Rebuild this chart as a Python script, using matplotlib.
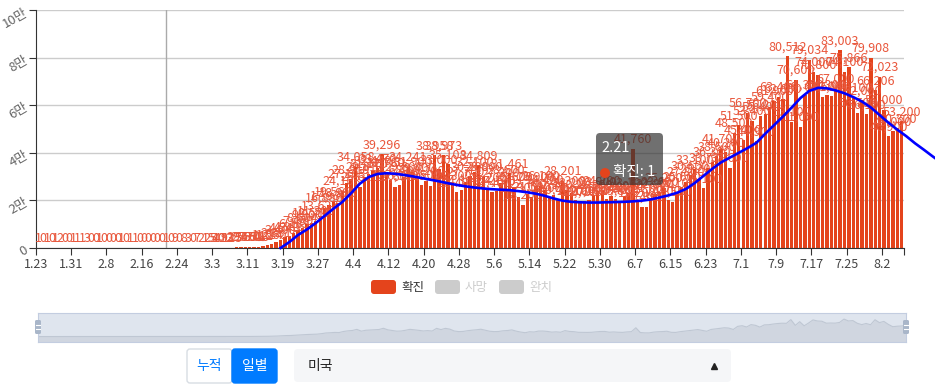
import matplotlib
matplotlib.use("Agg")
import matplotlib.pyplot as plt
from matplotlib.patches import FancyBboxPatch, Circle
from matplotlib.transforms import IdentityTransform
import numpy as np
import pandas as pd

plt.rcParams["font.family"] = ["Noto Sans CJK KR", "DejaVu Sans"]

W, H = 935, 389

# daily confirmed cases, 2020-01-23 .. 2020-08-06
dates = pd.date_range("2020-01-23", "2020-08-06")
confirmed = [
    1, 0, 1, 0, 1, 2, 0, 0, 1, 1, 1, 3, 0, 0, 1, 0, 0, 0, 0, 1,
    0, 1, 1, 0, 0, 0, 0, 0, 0, 1, 0, 9, 0, 8, 3, 0, 7, 2, 1, 25,
    54, 40, 122, 93, 125, 297, 258, 355, 470, 552, 603, 912, 1214, 1560, 2331, 3400, 4543, 4916, 6189, 7459,
    8604, 9900, 10573, 11300, 13627, 16886, 17939, 19560, 18993, 24103, 27103, 28819, 34058, 25616, 29813, 31170, 32449, 33470, 39296, 31780,
    28680, 25600, 26300, 29800, 34241, 31900, 29400, 26500, 28200, 26100, 38958, 33000, 38973, 35108, 26300, 23400, 24300, 27700, 30200, 32100,
    34809, 29800, 25200, 23400, 24100, 27300, 28600, 31461, 25600, 21300, 18200, 22700, 21500, 25900, 26100, 24400, 21000, 22300, 20400, 28201,
    24300, 23200, 20100, 19700, 19600, 20100, 22300, 23900, 24200, 20600, 21800, 20400, 19800, 21900, 23100, 41760, 19200, 17400, 17300, 21000,
    22800, 23600, 25200, 20000, 19500, 23100, 25600, 27800, 30600, 33100, 29200, 25100, 33738, 36300, 38600, 41700, 40200, 33600, 48500, 51500,
    45400, 56700, 53400, 44900, 55400, 56200, 59400, 61900, 63400, 62800, 80512, 53100, 70600, 51000, 64300, 79034, 74000, 72800, 63600, 64300,
    63800, 67000, 83003, 74100, 75866, 63100, 56700, 62000, 56100, 79908, 66206, 72023, 58000, 46900, 49000, 50300, 53200,
]

# smoothed trend, one value every 2 days starting 3.18 (runs past the last day)
trend_start = "2020-03-18"
trend = [
    0, 2500, 5500, 7800, 10500, 13500, 16500, 19300, 23000, 27000,
    29800, 31100, 31400, 31200, 30700, 30100, 29400, 28700, 28000, 27200,
    26500, 25900, 25400, 25000, 24700, 24500, 24300, 23900, 23400, 22800,
    21900, 20800, 19900, 19400, 19200, 19100, 19100, 19200, 19300, 19400,
    19600, 19900, 20400, 21200, 22100, 23200, 24800, 27300, 30300, 33300,
    36000, 38000, 40000, 42000, 44200, 48000, 51600, 55200, 59000, 63000,
    66000, 67300, 67100, 66200, 65000, 63400, 61500, 59000, 55800, 52600,
    49700, 47000, 44000, 41300, 38500, 35800,
]

tick_labels = ["1.23", "1.31", "2.8", "2.16", "2.24", "3.3", "3.11", "3.19", "3.27",
               "4.4", "4.12", "4.20", "4.28", "5.6", "5.14", "5.22", "5.30", "6.7",
               "6.15", "6.23", "7.1", "7.9", "7.17", "7.25", "8.2"]
y_ticks = [0, 20000, 40000, 60000, 80000, 100000]
y_tick_labels = ["0", "2만", "4만", "6만", "8만", "10만"]
legend_labels = ["확진", "사망", "완치"]
mode_labels = ["누적", "일별"]
country = "미국"
hover_day = "2020-02-21"

RED = "#e4441c"
LABEL_RED = "#e9573c"


def px(x, y):
    """top-left pixel coords -> display coords"""
    return x, H - y


fig = plt.figure(figsize=(W / 100, H / 100), dpi=100)
ax = fig.add_axes([36 / W, 1 - 248 / H, 868 / W, 238 / H])

n = len(confirmed)
x = np.arange(n)
ax.bar(x, confirmed, width=0.76, color=RED, zorder=2)
for i, v in enumerate(confirmed):
    ax.annotate(f"{v:,}", (i, v), xytext=(0, 4.3), textcoords="offset points",
                ha="center", va="baseline", fontsize=9, color=LABEL_RED, zorder=3)

t0 = dates.get_loc(pd.Timestamp(trend_start))
tx = t0 + 2 * np.arange(len(trend))
ax.plot(tx, trend, color="#0000ff", lw=1.9, zorder=4, clip_on=False,
        solid_joinstyle="round")

hover_i = dates.get_loc(pd.Timestamp(hover_day))
ax.axvline(hover_i, color="#aaaaaa", lw=1, zorder=1)

ax.set_xlim(-0.5, n - 0.5)
ax.set_ylim(0, 100000)
ax.set_yticks(y_ticks)
ax.set_yticklabels(y_tick_labels, rotation=30, ha="right", rotation_mode="anchor",
                   fontsize=9.5, color="#666666")
ax.yaxis.grid(True, color="#cccccc", lw=1, zorder=0)
ax.set_axisbelow(True)
xt = np.arange(0, n, 8) - 0.5
ax.set_xticks(list(xt) + [n - 0.5])
ax.set_xticklabels(tick_labels + [""], fontsize=9, color="#444444")
ax.tick_params(axis="both", length=5, color="#333333", pad=2)
for s in ["top", "right"]:
    ax.spines[s].set_visible(False)
for s in ["left", "bottom"]:
    ax.spines[s].set_color("#333333")

# tooltip
tr = IdentityTransform()
fig.patches.append(FancyBboxPatch(px(596, 185), 67, 52, boxstyle="round,pad=0,rounding_size=4",
                                  transform=tr, fc=(0.2, 0.2, 0.2, 0.7), ec="none", zorder=10))
fig.text(601 / W, 1 - 148 / H, f"{dates[hover_i].month}.{dates[hover_i].day}", color="white",
         fontsize=10.5, va="center", ha="left", zorder=11)
fig.patches.append(Circle(px(605, 173), 5, transform=tr, fc=RED, ec="none", zorder=11))
fig.text(613 / W, 1 - 172 / H, f"{legend_labels[0]}: {confirmed[hover_i]}", color="white",
         fontsize=10.5, va="center", ha="left", zorder=11)

# legend
lx = [371, 435, 499]
for k, lab in enumerate(legend_labels):
    fc = RED if k == 0 else "#cccccc"
    tc = "#333333" if k == 0 else "#cccccc"
    fig.patches.append(FancyBboxPatch(px(lx[k], 294), 25, 14, boxstyle="round,pad=0,rounding_size=3",
                                      transform=tr, fc=fc, ec="none"))
    fig.text((lx[k] + 30) / W, 1 - 287 / H, lab, color=tc, fontsize=9, va="center", ha="left")

# data zoom slider
sax = fig.add_axes([38 / W, 1 - 342 / H, 868 / W, 29 / H])
sax.set_facecolor("#dfe5ee")
sax.fill_between(x, -26000, confirmed, color="#d0d6e0", lw=0)
sax.plot(x, confirmed, color="#bfc7d3", lw=0.8)
sax.set_xlim(0, n - 1)
sax.set_ylim(-26000, 112000)
sax.set_xticks([])
sax.set_yticks([])
for s in sax.spines.values():
    s.set_color("#c3cde0")
    s.set_linewidth(0.8)
for hx in [38, 906]:
    fig.patches.append(FancyBboxPatch(px(hx - 3, 334), 6, 14, boxstyle="round,pad=0,rounding_size=1.5",
                                      transform=tr, fc="#a9b6c9", ec="none", zorder=5))
    for hy in [325, 329]:
        fig.lines.append(plt.Line2D([hx - 2, hx + 2], [H - hy, H - hy], transform=tr,
                                    color="white", lw=0.8, zorder=6))

# buttons
fig.patches.append(FancyBboxPatch(px(187, 383), 45, 34, boxstyle="round,pad=0,rounding_size=3",
                                  transform=tr, fc="white", ec="#d8dde3", lw=1))
fig.patches.append(FancyBboxPatch(px(232, 383), 45, 34, boxstyle="round,pad=0,rounding_size=3",
                                  transform=tr, fc="#007bff", ec="#007bff", lw=1))
fig.text(209.5 / W, 1 - 366 / H, mode_labels[0], color="#007bff", fontsize=10, ha="center", va="center")
fig.text(254.5 / W, 1 - 366 / H, mode_labels[1], color="white", fontsize=10, ha="center", va="center")

fig.patches.append(FancyBboxPatch(px(294, 382), 437, 33, boxstyle="round,pad=0,rounding_size=4",
                                  transform=tr, fc="#f5f6f8", ec="none"))
fig.text(308 / W, 1 - 366 / H, country, color="#222222", fontsize=10, ha="left", va="center")
fig.lines.append(plt.Line2D([714], [H - 366], transform=tr, marker="^", ms=5,
                            color="#222222", ls="none"))

fig.savefig("out.png", dpi=100)
